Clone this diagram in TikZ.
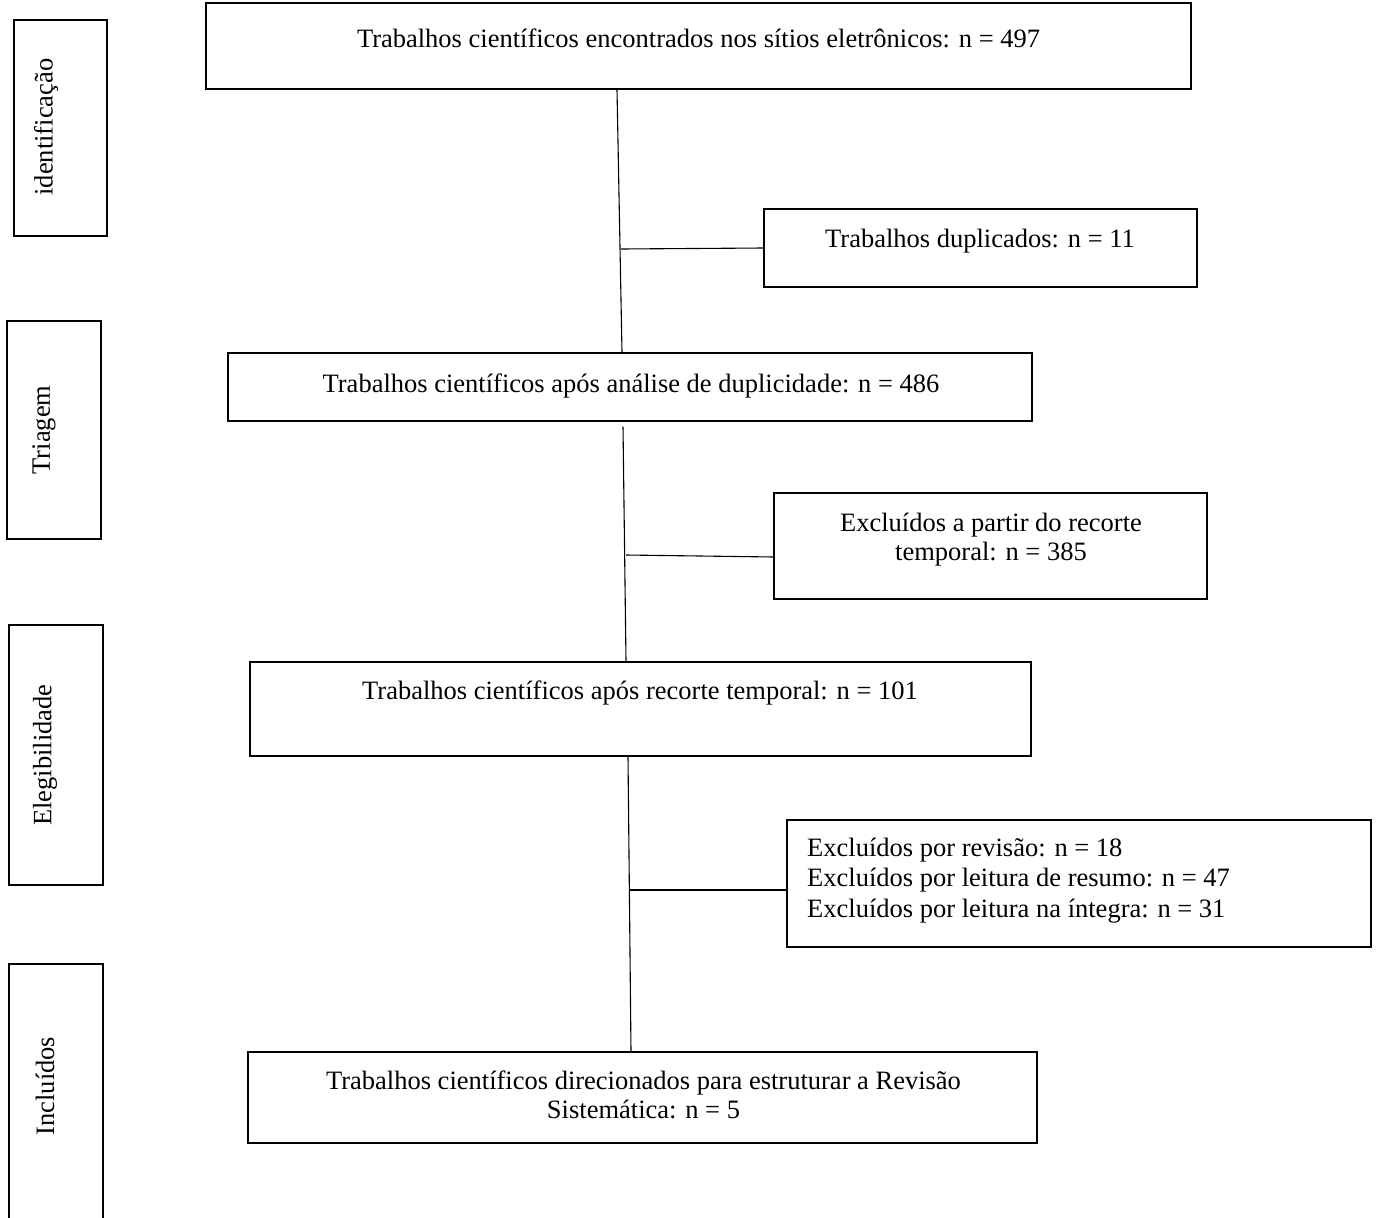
\documentclass[tikz,border=0pt]{standalone}
\usepackage{fontspec}
\setmainfont{Liberation Serif}
\begin{document}
\begin{tikzpicture}[x=1pt,y=-1pt,
  box/.style={draw, line width=1.1pt, rectangle, inner sep=0pt},
  txt/.style={inner sep=0pt, anchor=base, font=\fontsize{26.5}{30}\selectfont},
  vtxt/.style={inner sep=0pt, rotate=90, font=\fontsize{26.5}{30}\selectfont},
  conn/.style={line width=1.1pt}]
\useasboundingbox (0,0) rectangle (1376,1218);
\clip (0,0) rectangle (1376,1218);
% left stage boxes
\node[box, minimum width=93pt, minimum height=216pt] (sid) at (60.5,128) {};
\node[vtxt] (sidt) at (46,127) {identificação};
\node[box, minimum width=94pt, minimum height=218pt] (stri) at (54,430) {};
\node[vtxt] (strit) at (44,430) {Triagem};
\node[box, minimum width=94pt, minimum height=260pt] (sele) at (56,755) {};
\node[vtxt] (selet) at (45,755) {Elegibilidade};
\node[box, minimum width=94pt, minimum height=280pt] (sinc) at (56,1104) {};
\node[vtxt] (sinct) at (45,1086) {Incluídos};
% main boxes
\node[box, minimum width=985pt, minimum height=86pt] (b1) at (698.5,46) {};
\node[txt] (b1t) at (698.5,47) {Trabalhos científicos encontrados nos sítios eletrônicos: n = 497};
\node[box, minimum width=433pt, minimum height=78pt] (dup) at (980.5,248) {};
\node[txt] (dupt) at (980,247) {Trabalhos duplicados: n = 11};
\node[box, minimum width=804pt, minimum height=68pt] (b486) at (630,387) {};
\node[txt] (b486t) at (631,392) {Trabalhos científicos após análise de duplicidade: n = 486};
\node[box, minimum width=433pt, minimum height=106pt] (b385) at (990.5,546) {};
\node[txt] (b385t1) at (991,531) {Excluídos a partir do recorte};
\node[txt] (b385t2) at (991,560) {temporal: n = 385};
\node[box, minimum width=781pt, minimum height=94pt] (b101) at (640.5,709) {};
\node[txt] (b101t) at (640,699) {Trabalhos científicos após recorte temporal: n = 101};
\node[box, minimum width=584pt, minimum height=127pt] (excl) at (1079,883.5) {};
\node[txt, anchor=base west] (exclt1) at (807,856) {Excluídos por revisão: n = 18};
\node[txt, anchor=base west] (exclt2) at (807,886) {Excluídos por leitura de resumo: n = 47};
\node[txt, anchor=base west] (exclt3) at (807,917) {Excluídos por leitura na íntegra: n = 31};
\node[box, minimum width=789pt, minimum height=91pt] (fin) at (642.5,1097.5) {};
\node[txt] (fint1) at (643.5,1089) {Trabalhos científicos direcionados para estruturar a Revisão};
\node[txt] (fint2) at (643.5,1118) {Sistemática: n = 5};
% trunks
\draw[conn] ([xshift=-81.5pt]b1.south) -- ([xshift=-8pt]b486.north);
\draw[conn] ([xshift=-7pt,yshift=-5pt]b486.south) -- ([xshift=-14.5pt]b101.north);
\draw[conn] ([xshift=-12.5pt]b101.south) -- ([xshift=-11.5pt]fin.north);
% branches
\coordinate (j1) at (621,249);
\coordinate (j2) at (626,555);
\coordinate (j3) at (630,890);
\draw[conn] (j1) -- (dup.west);
\draw[conn] (j2) -- ([yshift=-11pt]b385.west);
\draw[conn] (j3) -- ([yshift=-6.5pt]excl.west);
\end{tikzpicture}
\end{document}
